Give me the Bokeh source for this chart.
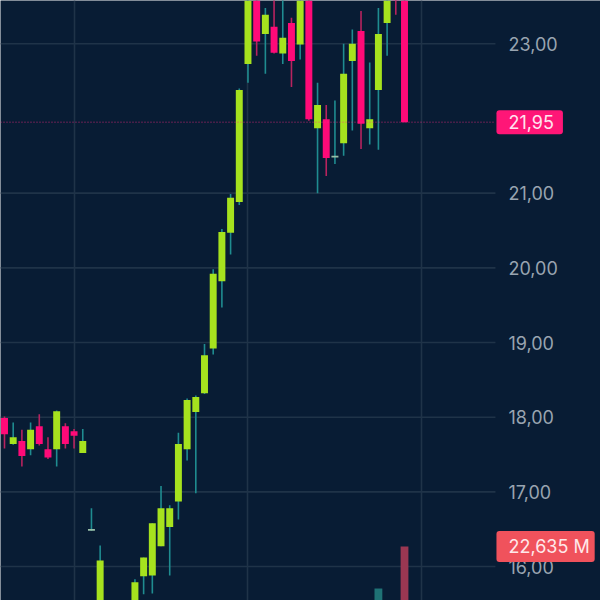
from bokeh.plotting import figure
from bokeh.models import Range1d, FixedTicker, Grid, ColumnDataSource
from bokeh.core.properties import value
from bokeh.embed import file_html
from bokeh.resources import INLINE

# ---------------- data ----------------
idx = list(range(47))
opens = [17.99, 17.64, 17.68, 17.57, 17.88, 17.57, 17.57, 17.88, 17.81, 17.52,
         16.49, 15.30, 15.45, 15.00, 14.85, 15.20, 15.87, 15.88, 16.27, 16.53,
         16.87, 17.57, 18.07, 18.32, 18.92, 19.82, 20.47, 20.88, 22.73, 23.70,
         23.13, 23.23, 22.87, 23.28, 22.99, 23.65, 21.87, 21.99, 21.49, 21.67,
         22.77, 23.17, 21.87, 22.38, 23.28, 23.90, 23.80]
highs = [18.01, 17.93, 17.83, 17.93, 18.04, 17.73, 18.09, 17.92, 17.84, 17.84,
         16.78, 16.28, 15.50, 15.20, 15.30, 15.83, 16.12, 16.58, 17.08, 16.82,
         17.79, 18.25, 18.29, 18.98, 19.98, 20.52, 20.99, 22.40, 23.85, 23.80,
         23.48, 23.70, 23.65, 23.35, 23.70, 23.72, 22.48, 22.18, 22.24, 23.00,
         23.19, 23.44, 22.75, 23.48, 23.80, 24.00, 23.90]
lows = [17.58, 17.63, 17.34, 17.49, 17.62, 17.44, 17.34, 17.58, 17.58, 17.52,
        16.48, 15.20, 14.90, 14.70, 14.80, 15.10, 15.63, 15.64, 16.27, 15.88,
        16.63, 17.42, 16.98, 18.31, 18.84, 19.47, 20.18, 20.84, 22.48, 22.84,
        22.60, 22.87, 22.73, 22.42, 22.79, 21.97, 21.00, 21.23, 21.39, 21.50,
        21.84, 21.59, 21.65, 21.58, 22.84, 23.39, 21.95]
closes = [17.77, 17.73, 17.48, 17.83, 17.64, 17.46, 18.08, 17.64, 17.75, 17.68,
          16.49, 16.08, 15.00, 14.85, 15.20, 15.79, 16.12, 16.58, 16.78, 16.78,
          17.64, 18.23, 18.27, 18.83, 19.92, 20.48, 20.94, 22.38, 23.75, 23.03,
          23.39, 22.88, 23.08, 22.77, 23.65, 21.99, 22.18, 21.47, 21.49, 22.60,
          23.00, 21.93, 21.99, 23.13, 23.70, 23.60, 21.95]
volumes_m = [6.2, 4.1, 5.0, 4.4, 5.3, 3.9, 7.1, 4.6, 3.5, 4.0,
             12.5, 13.8, 11.2, 9.6, 8.9, 10.4, 9.1, 11.6, 12.8, 9.9,
             13.2, 12.1, 10.7, 9.4, 13.5, 11.8, 10.2, 13.9, 13.6, 12.4,
             9.8, 10.9, 8.7, 11.3, 9.5, 13.7, 12.9, 10.6, 7.8, 11.9,
             9.2, 12.6, 8.4, 16.46, 10.1, 9.0, 22.635]
price_ticks = [16, 17, 18, 19, 20, 21, 23]
time_grid_ticks = [8, 28, 48]
last_price = 21.95
last_volume_m = 22.635

# ---------------- layout / styles ----------------
X_START, X_END = -0.46, 68.54        # candle-index range shown across the canvas
PANE_EDGE = 56.46                    # right edge of the price pane (index units)
Y_START, Y_END = 15.545, 23.580      # price range
VOL_START, VOL_END = 14.698, 102.89  # volume range (millions)

BG = "#081c34"
GRID = "#1f3348"
UP = "#a6e21e"
DOWN = "#ff0a78"
UP_WICK = "#1f8c90"
DOWN_WICK = "#b8235f"
DOJI = "#98bfa8"
UP_VOL = "#1f7275"
DOWN_VOL = "#9a3752"
AXIS_TXT = "#99a4b0"
FONT = "Inter"
PRICE_PAD = dict(left=12, right=9, top=5, bottom=5)
VOL_PAD = dict(left=12, right=5, top=5, bottom=5)


def fmt(v, nd):
    return f"{v:.{nd}f}".replace(".", ",")


body_top, body_bot, body_col, wick_col, vol_col = [], [], [], [], []
for o, c in zip(opens, closes):
    if c > o:
        body_top.append(c); body_bot.append(o)
        body_col.append(UP); wick_col.append(UP_WICK); vol_col.append(UP_VOL)
    elif c < o:
        body_top.append(o); body_bot.append(c)
        body_col.append(DOWN); wick_col.append(DOWN_WICK); vol_col.append(DOWN_VOL)
    else:
        body_top.append(o + 0.012); body_bot.append(o - 0.012)
        body_col.append(DOJI); wick_col.append(UP_WICK); vol_col.append(UP_VOL)

src = ColumnDataSource(dict(idx=idx, high=highs, low=lows, top=body_top, bottom=body_bot,
                            color=body_col, wick=wick_col, vol=volumes_m, vcolor=vol_col))

p = figure(width=600, height=600,
           x_range=Range1d(X_START, X_END), y_range=Range1d(Y_START, Y_END),
           output_backend="svg", toolbar_location=None,
           x_axis_location=None, y_axis_location=None,
           min_border=0, min_border_left=0, min_border_right=0,
           min_border_top=0, min_border_bottom=0,
           background_fill_color=BG, border_fill_color=BG, outline_line_color=None)
for g in p.grid:
    g.visible = False

p.extra_y_ranges = {"vol": Range1d(VOL_START, VOL_END)}

# vertical time grid (full height)
p.add_layout(Grid(dimension=0, ticker=FixedTicker(ticks=time_grid_ticks),
                  grid_line_color=GRID, grid_line_width=1.6))

# horizontal price grid (stops at the pane edge)
p.segment(x0=[X_START] * len(price_ticks), y0=price_ticks,
          x1=[PANE_EDGE] * len(price_ticks), y1=price_ticks,
          line_color=GRID, line_width=1.6)

# volume
p.vbar(x="idx", top="vol", bottom=0, width=0.9, y_range_name="vol",
       fill_color="vcolor", line_color=None, source=src)

# candles
p.segment(x0="idx", y0="low", x1="idx", y1="high", line_color="wick", line_width=1.6, source=src)
p.vbar(x="idx", top="top", bottom="bottom", width=0.8, fill_color="color",
       line_color=None, source=src)

# last price line
p.segment(x0=[X_START], y0=[last_price], x1=[PANE_EDGE], y1=[last_price],
          line_color="#ff2a85", line_alpha=0.5, line_dash="1 2", line_width=1.5)

# price scale labels
p.text(x=[PANE_EDGE] * len(price_ticks), y=price_ticks,
       text=[fmt(t, 2) for t in price_ticks], x_offset=13,
       text_font=value(FONT), text_font_size="18px", text_color=AXIS_TXT,
       text_align="left", text_baseline="middle")

# last price tag
p.text(x=[PANE_EDGE], y=[last_price], text=[fmt(last_price, 2)], x_offset=1,
       text_font=value(FONT), text_font_size="18px", text_color="#ffe4ef",
       text_align="left", text_baseline="middle",
       background_fill_color="#ff1677", padding=PRICE_PAD, border_radius=3)

# last volume tag
p.text(x=[PANE_EDGE], y=[last_volume_m], text=[fmt(last_volume_m, 3) + " M"], x_offset=1,
       y_range_name="vol",
       text_font=value(FONT), text_font_size="18px", text_color="#ffe8ea",
       text_align="left", text_baseline="middle",
       background_fill_color="#f0525c", padding=VOL_PAD, border_radius=3)

open("out.html", "w").write(file_html(p, INLINE))
